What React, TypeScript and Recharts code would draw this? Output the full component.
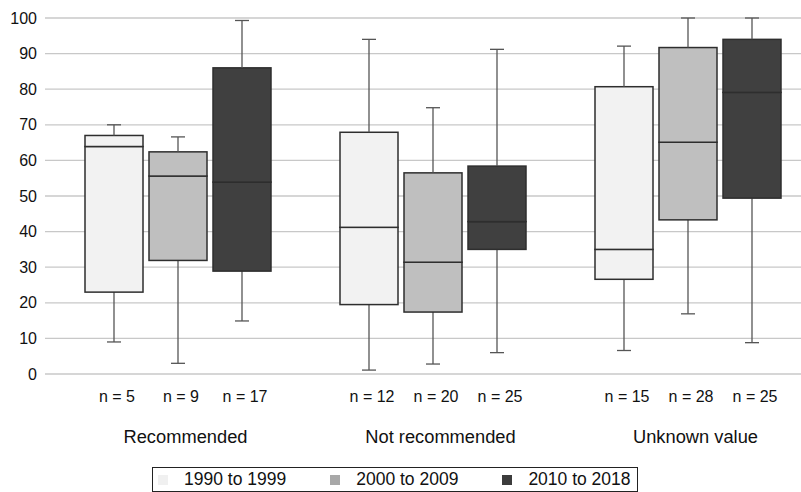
import React from 'react';
import { ComposedChart, Bar, XAxis, YAxis, CartesianGrid, Legend, LabelList } from 'recharts';

// groups along the x axis
const categories = ['Recommended', 'Not recommended', 'Unknown value'];
const seriesNames = ['1990 to 1999', '2000 to 2009', '2010 to 2018'];
const seriesFills = ['#f2f2f2', '#bfbfbf', '#404040'];
const swatchFills = ['#f0f0f0', '#a8a8a8', '#3c3c3c'];

// [min, q1, median, q3, max] per category
const box1990 = [
  [9.0, 23.0, 63.9, 67.0, 70.0],
  [1.1, 19.5, 41.2, 67.9, 94.0],
  [6.6, 26.6, 35.0, 80.7, 92.1],
];
const box2000 = [
  [3.0, 31.9, 55.6, 62.4, 66.6],
  [2.8, 17.4, 31.4, 56.5, 74.8],
  [16.9, 43.3, 65.1, 91.7, 100],
];
const box2010 = [
  [14.9, 28.9, 53.9, 86.0, 99.3],
  [6.0, 35.0, 42.8, 58.4, 91.2],
  [8.8, 49.4, 79.1, 94.0, 100],
];

const counts1990 = [5, 12, 15];
const counts2000 = [9, 20, 28];
const counts2010 = [17, 25, 25];

const yTicks = [0, 10, 20, 30, 40, 50, 60, 70, 80, 90, 100];

const boxes = [box1990, box2000, box2010];
const counts = [counts1990, counts2000, counts2010];

// stacked segments: base (hidden) -> lower whisker -> lower box -> upper box -> upper whisker
const data = categories.map((category, i) => {
  const row: Record<string, any> = { category };
  boxes.forEach((b, s) => {
    const [mn, q1, md, q3, mx] = b[i];
    row[`base${s}`] = mn;
    row[`wl${s}`] = q1 - mn;
    row[`bl${s}`] = md - q1;
    row[`bu${s}`] = q3 - md;
    row[`wu${s}`] = mx - q3;
    row[`n${s}`] = counts[s][i];
  });
  return row;
});

const FONT = '"Liberation Sans", Arial, Helvetica, sans-serif';
const CAP = 7;

const Hidden = () => null;

const BoxPart = (props: any) => {
  const { x, y, width, height, fill } = props;
  return <rect x={x} y={y} width={width} height={height} fill={fill} stroke="#2e2e2e" strokeWidth={1.5} />;
};

const LowerWhisker = (props: any) => {
  const { x, y, width, height } = props;
  const cx = x + width / 2;
  return (
    <g stroke="#555" strokeWidth={1.3}>
      <line x1={cx} y1={y} x2={cx} y2={y + height} />
      <line x1={cx - CAP} y1={y + height} x2={cx + CAP} y2={y + height} />
    </g>
  );
};

const UpperWhisker = (props: any) => {
  const { x, y, width, height } = props;
  const cx = x + width / 2;
  return (
    <g stroke="#555" strokeWidth={1.3}>
      <line x1={cx} y1={y} x2={cx} y2={y + height} />
      <line x1={cx - CAP} y1={y} x2={cx + CAP} y2={y} />
    </g>
  );
};

const CountLabel = (props: any) => {
  const vb = props.viewBox || props;
  const { x, y, width, height } = vb;
  return (
    <text x={x + width / 2 + 3} y={y + height + 22} textAnchor="middle" dominantBaseline="central" fontSize={16} fill="#111">
      n = {props.value}
    </text>
  );
};

const renderLegend = () => (
  <div style={{ boxSizing: 'border-box', height: 25, border: '1px solid #222', display: 'flex', alignItems: 'center', paddingLeft: 5, fontSize: 17.5, color: '#111', whiteSpace: 'nowrap' }}>
    {seriesNames.map((name, i) => (
      <div key={name} style={{ display: 'flex', alignItems: 'center', flexShrink: 0, marginRight: i < 2 ? 44 : 0 }}>
        <span style={{ width: 10, height: 10, background: swatchFills[i], marginRight: 16, display: 'inline-block' }} />
        <span>{name}</span>
      </div>
    ))}
  </div>
);

export default function App() {
  return (
    <div style={{ position: 'absolute', left: 0, top: 0, width: 801, height: 492, overflow: 'hidden', background: '#fff', fontFamily: FONT }}>
      <ComposedChart
        width={820}
        height={492}
        data={data}
        margin={{ top: 18, right: 0, bottom: 0, left: 0 }}
        barGap={6}
        style={{ fontFamily: FONT }}
      >
        <CartesianGrid vertical={false} stroke="#c8c8c8" strokeWidth={1.3} />
        <XAxis
          dataKey="category"
          axisLine={false}
          tickLine={false}
          height={93}
          padding={{ left: 5, right: 5 }}
          tickMargin={50}
          tick={{ fontSize: 18.3, fill: '#111', dx: 8 }}
          interval={0}
        />
        <YAxis
          domain={[0, 100]}
          ticks={yTicks}
          width={45}
          axisLine={false}
          tickLine={false}
          tick={{ fontSize: 16, fill: '#111' }}
          interval={0}
        />
        <Legend
          verticalAlign="bottom"
          content={renderLegend}
          wrapperStyle={{ left: 152, top: 467, width: 486, height: 25, bottom: 'auto' }}
        />
        {seriesNames.map((name, s) => [
          <Bar key={`base${s}`} dataKey={`base${s}`} stackId={`s${s}`} barSize={58} shape={Hidden} isAnimationActive={false} legendType="none">
            <LabelList dataKey={`n${s}`} content={CountLabel} />
          </Bar>,
          <Bar key={`wl${s}`} dataKey={`wl${s}`} stackId={`s${s}`} barSize={58} shape={LowerWhisker} isAnimationActive={false} legendType="none" />,
          <Bar key={`bl${s}`} dataKey={`bl${s}`} stackId={`s${s}`} barSize={58} fill={seriesFills[s]} shape={BoxPart} isAnimationActive={false} name={name} />,
          <Bar key={`bu${s}`} dataKey={`bu${s}`} stackId={`s${s}`} barSize={58} fill={seriesFills[s]} shape={BoxPart} isAnimationActive={false} legendType="none" />,
          <Bar key={`wu${s}`} dataKey={`wu${s}`} stackId={`s${s}`} barSize={58} shape={UpperWhisker} isAnimationActive={false} legendType="none" />,
        ])}
      </ComposedChart>
    </div>
  );
}
